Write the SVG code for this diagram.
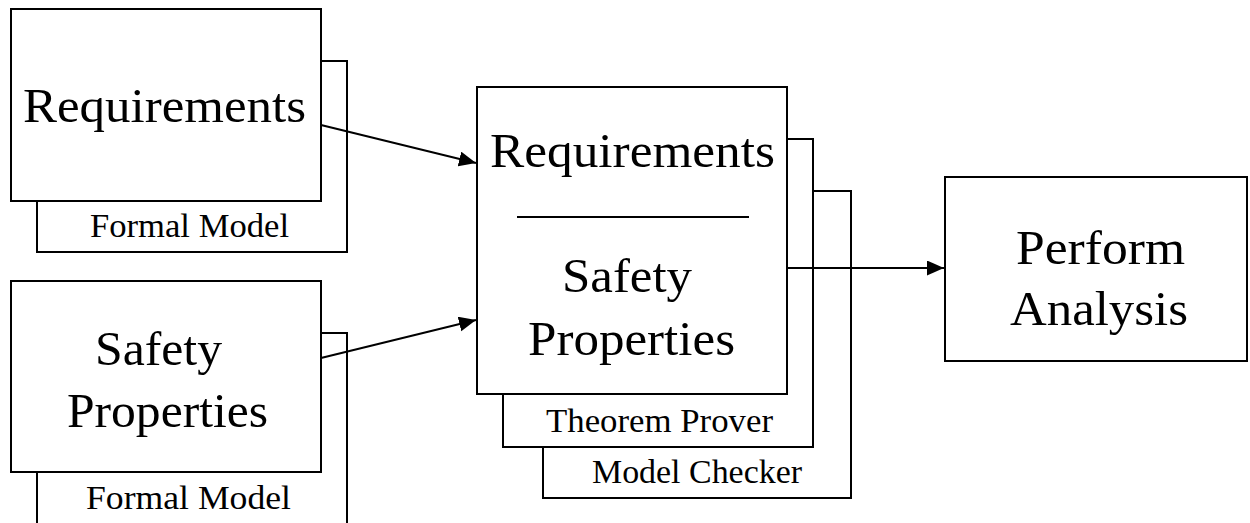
<svg xmlns="http://www.w3.org/2000/svg" width="1250" height="523" viewBox="0 0 1250 523">
<style>
.box{fill:#fff;stroke:#000;stroke-width:2}
.big{font-family:"Liberation Serif","Times New Roman",serif;font-size:48px;fill:#000}
.small{font-family:"Liberation Serif","Times New Roman",serif;font-size:33px;fill:#000}
.conn{stroke:#000;stroke-width:2;fill:none}
</style>
<defs>
<marker id="arr" markerUnits="userSpaceOnUse" markerWidth="18" markerHeight="16" refX="17" refY="7.5" orient="auto">
<path d="M0,0 L17,7.5 L0,15 z" fill="#000"/>
</marker>
</defs>
<rect width="1250" height="523" fill="#fff"/>
<g id="req-input">
<rect class="box" x="37" y="61" width="310" height="191"/>
<text class="small" x="90" y="237" textLength="199" lengthAdjust="spacingAndGlyphs">Formal Model</text>
<rect class="box" x="11" y="9" width="310" height="192"/>
<text class="big" x="23" y="122" textLength="283" lengthAdjust="spacingAndGlyphs">Requirements</text>
</g>
<g id="safety-input">
<rect class="box" x="37" y="333" width="310" height="230"/>
<text class="small" x="86" y="509" textLength="205" lengthAdjust="spacingAndGlyphs">Formal Model</text>
<rect class="box" x="11" y="281" width="310" height="191"/>
<text class="big" x="95" y="365" textLength="127" lengthAdjust="spacingAndGlyphs">Safety</text>
<text class="big" x="67" y="427" textLength="201" lengthAdjust="spacingAndGlyphs">Properties</text>
</g>
<g id="analysis-tools">
<rect class="box" x="543" y="191" width="308" height="307"/>
<text class="small" x="592" y="483" textLength="210" lengthAdjust="spacingAndGlyphs">Model Checker</text>
<rect class="box" x="503" y="139" width="310" height="308"/>
<text class="small" x="546" y="432" textLength="227" lengthAdjust="spacingAndGlyphs">Theorem Prover</text>
<rect class="box" x="477" y="87" width="310" height="307"/>
<text class="big" x="490" y="167" textLength="285" lengthAdjust="spacingAndGlyphs">Requirements</text>
<line x1="517" y1="217" x2="749" y2="217" stroke="#000" stroke-width="2"/>
<text class="big" x="562" y="292" textLength="130" lengthAdjust="spacingAndGlyphs">Safety</text>
<text class="big" x="528" y="355" textLength="207" lengthAdjust="spacingAndGlyphs">Properties</text>
</g>
<g id="perform-analysis">
<rect class="box" x="945" y="177" width="302" height="184"/>
<text class="big" x="1016" y="264" textLength="169" lengthAdjust="spacingAndGlyphs">Perform</text>
<text class="big" x="1010" y="325" textLength="178" lengthAdjust="spacingAndGlyphs">Analysis</text>
</g>
<g id="connectors">
<line class="conn" x1="321" y1="125" x2="476" y2="163" marker-end="url(#arr)"/>
<line class="conn" x1="321" y1="358" x2="476" y2="320" marker-end="url(#arr)"/>
<line class="conn" x1="787" y1="268" x2="944" y2="268" marker-end="url(#arr)"/>
</g>
</svg>
